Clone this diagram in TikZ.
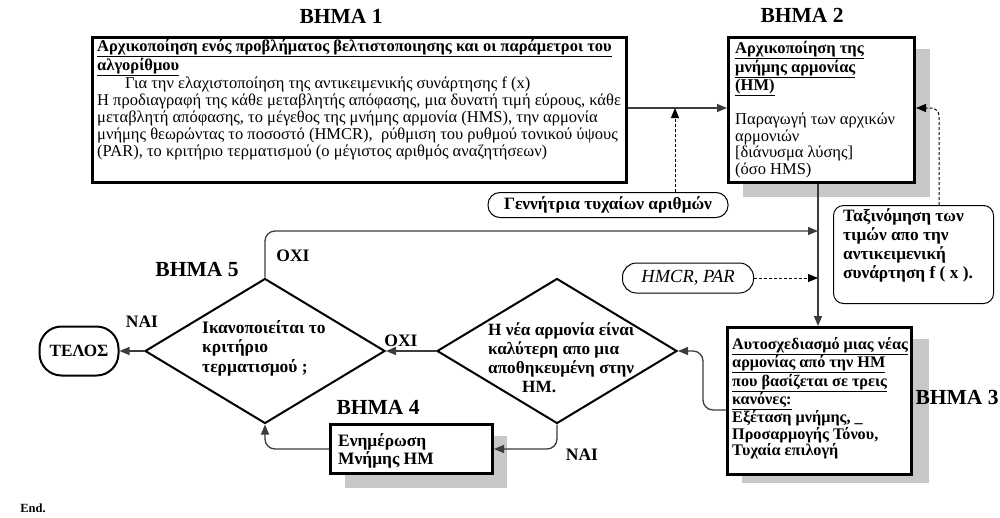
\documentclass[tikz,border=0pt]{standalone}
\usepackage{fontspec}
\setmainfont{Liberation Serif}
\usetikzlibrary{arrows.meta,shapes.geometric,calc}
\definecolor{shadowgray}{RGB}{200,200,200}
\definecolor{linegray}{RGB}{60,60,60}
\tikzset{
  box/.style={draw=black, line width=3pt, fill=white, inner sep=0pt, anchor=north west},
  txt/.style={anchor=north west, inner sep=0pt, align=left},
  rbox/.style={draw=black, line width=1pt, fill=white, inner sep=0pt},
  dia/.style={draw=black, line width=2pt, diamond, inner sep=0pt, minimum width=240pt, minimum height=145pt},
  conn/.style={draw=linegray, line width=1.3pt, -{Triangle[length=10pt,width=8pt]}},
  dconn/.style={draw=black, line width=1pt, dash pattern=on 3pt off 2pt, -{Triangle[length=10pt,width=8pt]}},
  steplabel/.style={inner sep=0pt, font=\bfseries\fontsize{21.5}{24}\selectfont},
  yn/.style={inner sep=0pt, font=\bfseries\fontsize{17.5}{20}\selectfont},
}
\begin{document}
\begin{tikzpicture}[x=1pt,y=-1pt]
\useasboundingbox (0,0) rectangle (1000,517);
% shadows
\fill[shadowgray] (743,49) rectangle (930,197);
\fill[shadowgray] (742,339) rectangle (929,483);
\fill[shadowgray] (345,436) rectangle (507,488);
% step labels
\node[steplabel] (s1) at (341,16) {ΒΗΜΑ 1};
\node[steplabel] (s2) at (802,15) {ΒΗΜΑ 2};
\node[steplabel] (s3) at (957,397) {ΒΗΜΑ 3};
\node[steplabel] (s4) at (378,407) {ΒΗΜΑ 4};
\node[steplabel] (s5) at (197,270) {ΒΗΜΑ 5};
% boxes
\node[box, minimum width=534pt, minimum height=145pt] (b1) at (91,36) {};
\node[box, minimum width=186pt, minimum height=145pt] (b2) at (727,36) {};
\node[box, minimum width=184pt, minimum height=147pt] (b3) at (726,326) {};
\node[box, minimum width=162pt, minimum height=49pt] (b4) at (329,423) {};
\node[txt, font=\fontsize{16.5}{17}\selectfont] (t1) at (97,39) {%
\textbf{\underline{Αρχικοποίηση ενός προβλήματος βελτιστοποιησης και οι παράμετροι του}}\\
\textbf{\underline{αλγορίθμου}}\\
\hspace*{28pt}Για την ελαχιστοποίηση της αντικειμενικής συνάρτησης f (x)\\
Η προδιαγραφή της κάθε μεταβλητής απόφασης, μια δυνατή τιμή εύρους, κάθε\\
μεταβλητή απόφασης, το μέγεθος της μνήμης αρμονία (HMS), την αρμονία\\
μνήμης θεωρώντας το ποσοστό (HMCR),\ \ ρύθμιση του ρυθμού τονικού ύψους\\
(PAR), το κριτήριο τερματισμού (ο μέγιστος αριθμός αναζητήσεων)};
\node[txt, font=\fontsize{16.5}{16.7}\selectfont] (t2) at (735,41) {%
\textbf{\underline{Αρχικοποίηση της}}\\
\textbf{\underline{μνήμης αρμονίας}}\\
\textbf{\underline{(HM)}}\\[16pt]
Παραγωγή των αρχικών\\
αρμονιών\\
{[}διάνυσμα λύσης]\\
(όσο HMS)};
\node[txt, font=\bfseries\fontsize{16.2}{16.4}\selectfont] (t3) at (732,337) {%
\underline{Αυτοσχεδιασμό μιας νέας}\\
\underline{αρμονίας από την HM}\\
\underline{που βασίζεται σε τρεις}\\
\underline{κανόνες:}\\
Εξέταση μνήμης, \_\\
Προσαρμογής Τόνου,\\
Τυχαία επιλογή};
\node[txt, font=\bfseries\fontsize{17.4}{18}\selectfont] (t4) at (338,433) {Ενημέρωση\\Μνήμης HM};
% rounded boxes
\node[rbox, minimum width=240pt, minimum height=25pt, rounded corners=12pt, font=\bfseries\fontsize{17.3}{18}\selectfont] (gen) at (608,205) {Γεννήτρια τυχαίων αριθμών};
\node[rbox, minimum width=131pt, minimum height=30pt, rounded corners=14pt, font=\itshape\fontsize{18.5}{20}\selectfont] (hm) at (688,278) {HMCR, PAR};
\node[rbox, anchor=north west, minimum width=160pt, minimum height=98pt, rounded corners=10pt] (tax) at (833,205) {};
\node[txt, font=\bfseries\fontsize{17.3}{19}\selectfont] (taxt) at (843,208) {Ταξινόμηση των\\τιμών απο την\\αντικειμενική\\συνάρτηση f ( x ).};
\node[rbox, line width=2pt, minimum width=79pt, minimum height=49pt, rounded corners=22pt, font=\bfseries\fontsize{17.2}{19}\selectfont] (telos) at (79,351) {ΤΕΛΟΣ};
% diamonds
\node[dia] (d4) at (557,351) {};
\node[dia] (d5) at (265,351) {};
\node[txt, font=\bfseries\fontsize{17.2}{18.7}\selectfont] (d4t) at (488,323) {Η νέα αρμονία είναι\\καλύτερη απο μια\\αποθηκευμένη στην\\\hspace*{34pt}HM.};
\node[txt, font=\bfseries\fontsize{17.5}{19.5}\selectfont] (d5t) at (202,320) {Ικανοποιείται το\\κριτήριο\\τερματισμού ;};
% yes/no labels
\node[yn] (no1) at (293,256) {ΟΧΙ};
\node[yn] (no2) at (401,341) {ΟΧΙ};
\node[yn] (yes1) at (142,322) {ΝΑΙ};
\node[yn] (yes2) at (582,455) {ΝΑΙ};
\node[inner sep=0pt, font=\bfseries\fontsize{12.5}{14}\selectfont] (end) at (33,508) {End.};
% coordinates
\coordinate (j1) at (675,108);
\coordinate (k1) at (939,108);
\coordinate (vx) at (818,231);
\coordinate (c3) at (703,410);
% connectors
\draw[conn] (b1.east |- j1) -- (b2.west |- j1);
\draw[dconn] (gen.north -| j1) -- (j1);
\draw[dconn, rounded corners=8pt] (tax.north -| k1) -- (k1) -- (b2.east |- k1);
\draw[conn] (b2.south -| vx) -- (b3.north -| vx);
\draw[conn, rounded corners=10pt] (d5.north) |- (vx);
\draw[dconn] (hm.east) -- (hm.east -| vx);
\draw[conn, rounded corners=10pt] (b3.west |- c3) -- (c3) |- (d4.east);
\draw[conn] (d4.west) -- (d5.east);
\draw[conn] (d5.west) -- (telos.east);
\draw[conn, rounded corners=10pt] (d4.south) |- (b4.east);
\draw[conn, rounded corners=10pt] (b4.west) -| (d5.south);
\end{tikzpicture}
\end{document}
